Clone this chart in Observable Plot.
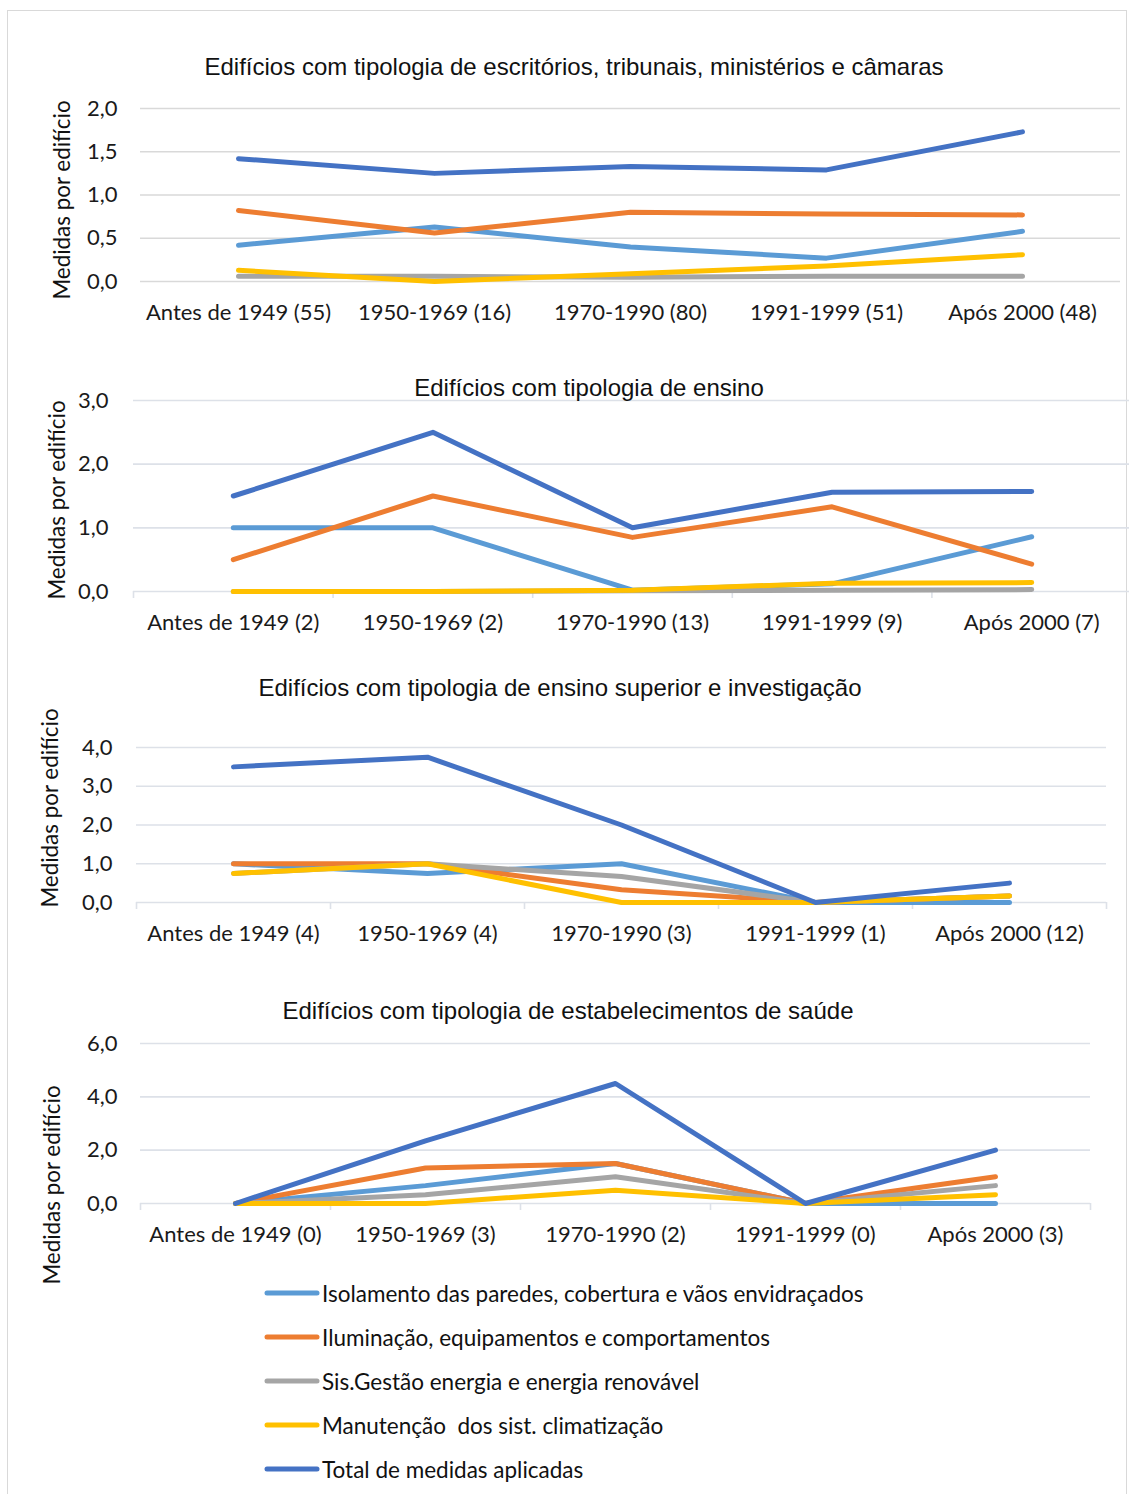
<!DOCTYPE html>
<html>
<head>
<meta charset="utf-8">
<script src="https://cdn.jsdelivr.net/npm/d3@7"></script>
<script src="https://cdn.jsdelivr.net/npm/@observablehq/plot@0.6"></script>
<style>
  body { margin: 0; background: #fff; }
  #root { position: relative; width: 1129px; height: 1494px; overflow: hidden; background: #fff; }
  #border { position: absolute; left: 7px; top: 10px; width: 1120px; height: 1500px; border: 1.5px solid #d9d9d9; box-sizing: border-box; }
  .title { position: absolute; transform: translate(-50%, 0); white-space: nowrap; font-family: "Liberation Sans", Arial, sans-serif; font-size: 24px; line-height: 26px; color: #111; }
  .ylab { position: absolute; transform: translate(-50%, -50%) rotate(-90deg); white-space: nowrap; font-family: Lato, "Open Sans", sans-serif; font-size: 22.4px; line-height: 24px; color: #111; }
  .panel { position: absolute; left: 0; }
  .legend { position: absolute; left: 263px; top: 1279px; font-family: Lato, "Open Sans", sans-serif; font-size: 22.5px; color: #111; }
  .legrow { position: absolute; left: 0; white-space: pre; display: flex; align-items: center; height: 28px; }
  .legrow svg { margin-right: 1px; }
</style>
</head>
<body>
<div id="root"><div id="border"></div></div>
<script>
// ---------- data ----------
const seriesNames = [
  "Isolamento das paredes, cobertura e vãos envidraçados",
  "Iluminação, equipamentos e comportamentos",
  "Sis.Gestão energia e energia renovável",
  "Manutenção  dos sist. climatização",
  "Total de medidas aplicadas"
];
const seriesColors = ["#5B9BD5", "#ED7D31", "#A5A5A5", "#FFC000", "#4472C4"];
const yAxisTitle = "Medidas por edifício";

// Panel 1
const title1 = "Edifícios com tipologia de escritórios, tribunais, ministérios e câmaras";
const cats1 = ["Antes de 1949 (55)", "1950-1969 (16)", "1970-1990 (80)", "1991-1999 (51)", "Após 2000 (48)"];
const isol1  = [0.42, 0.63, 0.40, 0.27, 0.58];
const ilum1  = [0.82, 0.56, 0.80, 0.78, 0.77];
const gest1  = [0.06, 0.06, 0.05, 0.06, 0.06];
const manut1 = [0.13, 0.00, 0.09, 0.18, 0.31];
const total1 = [1.42, 1.25, 1.33, 1.29, 1.73];
const yTicks1 = [0, 0.5, 1.0, 1.5, 2.0];

// Panel 2
const title2 = "Edifícios com tipologia de ensino";
const cats2 = ["Antes de 1949 (2)", "1950-1969 (2)", "1970-1990 (13)", "1991-1999 (9)", "Após 2000 (7)"];
const isol2  = [1.00, 1.00, 0.02, 0.12, 0.86];
const ilum2  = [0.50, 1.50, 0.85, 1.33, 0.43];
const gest2  = [0.00, 0.00, 0.01, 0.02, 0.03];
const manut2 = [0.00, 0.00, 0.02, 0.13, 0.14];
const total2 = [1.50, 2.50, 1.00, 1.56, 1.57];
const yTicks2 = [0, 1, 2, 3];

// Panel 3
const title3 = "Edifícios com tipologia de ensino superior e investigação";
const cats3 = ["Antes de 1949 (4)", "1950-1969 (4)", "1970-1990 (3)", "1991-1999 (1)", "Após 2000 (12)"];
const isol3  = [1.00, 0.75, 1.00, 0.00, 0.00];
const ilum3  = [1.00, 1.00, 0.33, 0.00, 0.17];
const gest3  = [0.75, 1.00, 0.67, 0.00, 0.17];
const manut3 = [0.75, 1.00, 0.00, 0.00, 0.17];
const total3 = [3.50, 3.75, 2.00, 0.00, 0.50];
const yTicks3 = [0, 1, 2, 3, 4];

// Panel 4
const title4 = "Edifícios com tipologia de estabelecimentos de saúde";
const cats4 = ["Antes de 1949 (0)", "1950-1969 (3)", "1970-1990 (2)", "1991-1999 (0)", "Após 2000 (3)"];
const isol4  = [0.00, 0.67, 1.50, 0.00, 0.00];
const ilum4  = [0.00, 1.33, 1.50, 0.00, 1.00];
const gest4  = [0.00, 0.33, 1.00, 0.00, 0.67];
const manut4 = [0.00, 0.00, 0.50, 0.00, 0.33];
const total4 = [0.00, 2.35, 4.50, 0.00, 2.00];
const yTicks4 = [0, 2, 4, 6];

// ---------- layout ----------
const W = 1129;
const root = document.getElementById("root");
const fmt = d => d.toFixed(1).replace(".", ",");
const tickFont = "Lato, 'Open Sans', sans-serif";

function panel(cfg) {
  const {cats, series, yTicks, left, right, top, bottom, svgTop, svgBottom, tickMarks, gridColor,
         title, titleX, titleY, ylabX, ylabY} = cfg;
  const rows = [];
  series.forEach((vals, s) => vals.forEach((v, i) => rows.push({x: i + 0.5, y: v, s})));
  const centers = cats.map((c, i) => i + 0.5);
  const bounds = d3.range(cats.length + 1);
  const marks = [
    Plot.gridY(yTicks, {stroke: gridColor, strokeOpacity: 1, strokeWidth: 1.6}),
    Plot.axisY(yTicks, {tickSize: 0, tickPadding: cfg.yPad, tickFormat: fmt, label: null, fontSize: 22, fill: "#1a1a1a"}),
    Plot.axisX(centers, {tickSize: 0, tickPadding: 23, tickFormat: d => cats[Math.round(d - 0.5)], label: null, fontSize: 22, fill: "#1a1a1a"})
  ];
  if (tickMarks) marks.push(Plot.axisX(bounds, {tickSize: 7, tickFormat: () => "", label: null, stroke: gridColor, strokeWidth: 1.6}));
  series.forEach((vals, s) => {
    marks.push(Plot.line(rows.filter(r => r.s === s), {x: "x", y: "y", stroke: seriesColors[s], strokeWidth: 5, strokeLinecap: "round", strokeLinejoin: "round"}));
  });
  const svg = Plot.plot({
    width: W,
    height: svgBottom - svgTop,
    marginLeft: left,
    marginRight: W - right,
    marginTop: top - svgTop,
    marginBottom: svgBottom - bottom,
    x: {domain: [0, cats.length]},
    y: {domain: [yTicks[0], yTicks[yTicks.length - 1]]},
    style: {fontFamily: tickFont, fontSize: "22px", background: "transparent", overflow: "visible"},
    marks
  });
  const wrap = document.createElement("div");
  wrap.className = "panel";
  wrap.style.top = svgTop + "px";
  wrap.appendChild(svg);
  root.appendChild(wrap);

  const t = document.createElement("div");
  t.className = "title";
  t.textContent = title;
  t.style.left = titleX + "px";
  t.style.top = (titleY - 13) + "px";
  root.appendChild(t);

  const yl = document.createElement("div");
  yl.className = "ylab";
  yl.textContent = yAxisTitle;
  yl.style.left = ylabX + "px";
  yl.style.top = ylabY + "px";
  root.appendChild(yl);
}

panel({cats: cats1, series: [isol1, ilum1, gest1, manut1, total1], yTicks: yTicks1,
  left: 140, right: 1120, top: 108, bottom: 281, svgTop: 90, svgBottom: 335, tickMarks: false, gridColor: "#d9d9d9", yPad: 23,
  title: title1, titleX: 574, titleY: 67, ylabX: 62, ylabY: 200});
panel({cats: cats2, series: [isol2, ilum2, gest2, manut2, total2], yTicks: yTicks2,
  left: 133, right: 1131, top: 400, bottom: 591, svgTop: 385, svgBottom: 645, tickMarks: true, gridColor: "#dde1e8", yPad: 25,
  title: title2, titleX: 589, titleY: 388, ylabX: 57, ylabY: 500});
panel({cats: cats3, series: [isol3, ilum3, gest3, manut3, total3], yTicks: yTicks3,
  left: 136, right: 1106, top: 747, bottom: 902, svgTop: 730, svgBottom: 955, tickMarks: true, gridColor: "#dde1e8", yPad: 24,
  title: title3, titleX: 560, titleY: 688, ylabX: 50, ylabY: 808});
panel({cats: cats4, series: [isol4, ilum4, gest4, manut4, total4], yTicks: yTicks4,
  left: 140, right: 1090, top: 1043, bottom: 1203, svgTop: 1025, svgBottom: 1258, tickMarks: true, gridColor: "#dde1e8", yPad: 23,
  title: title4, titleX: 568, titleY: 1011, ylabX: 52, ylabY: 1185});

// legend
const leg = document.createElement("div");
leg.className = "legend";
seriesNames.forEach((name, i) => {
  const row = document.createElement("div");
  row.className = "legrow";
  row.style.top = (i * 44) + "px";
  row.innerHTML = `<svg width="58" height="10"><line x1="4" x2="54" y1="5" y2="5" stroke="${seriesColors[i]}" stroke-width="5" stroke-linecap="round"/></svg><span></span>`;
  row.querySelector("span").textContent = name;
  leg.appendChild(row);
});
root.appendChild(leg);
</script>
</body>
</html>
